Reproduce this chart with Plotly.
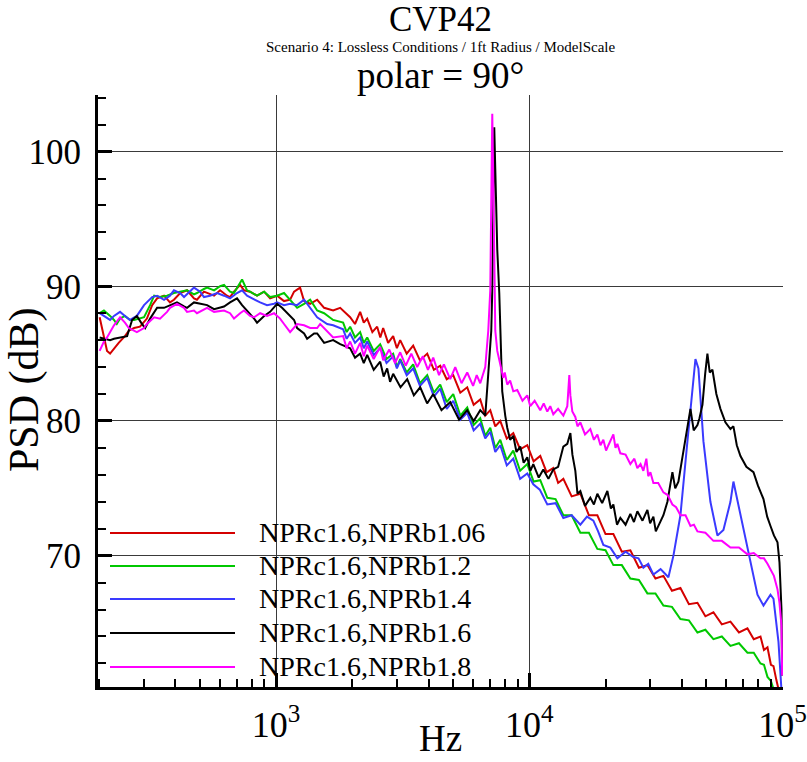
import plotly.graph_objects as go

# ---------------- data ----------------
series_names = ["NPRc1.6,NPRb1.06", "NPRc1.6,NPRb1.2", "NPRc1.6,NPRb1.4",
                "NPRc1.6,NPRb1.6", "NPRc1.6,NPRb1.8"]
series_colors = ["#d40000", "#00c800", "#3a3aff", "#000000", "#ff00ff"]

red_hz = [201, 209, 215, 221, 229, 239, 253, 262, 275, 290, 309, 324, 339, 361, 381, 395,
          418, 445, 474, 487, 519, 534, 569, 601, 640, 658, 682, 721, 747, 789, 841, 897,
          947, 1009, 1075, 1136, 1178, 1244, 1290, 1363, 1453, 1548, 1680, 1791,
          1961, 2050, 2148, 2220, 2290, 2400, 2507, 2580, 2648, 2770, 2900, 3000, 3091, 3280,
          3479, 3700, 3953, 4200, 4449, 4720, 5008, 5340, 5687, 6030, 6402, 6700, 7013, 7340,
          7680, 8150, 8645, 9200, 9820, 10400, 11050, 11700, 12440, 13000, 13630, 14700,
          15910, 17200, 18570, 20000, 21480, 23200, 25070, 27100, 29270, 31500, 33860, 36600,
          39530, 42700, 46140, 49600, 53360, 57600, 62290, 67300, 72710, 77000, 81850, 84500,
          87240, 90000, 92140, 94500, 96420]
red_db = [87.7, 86.3, 85.2, 85.0, 85.4, 85.8, 86.3, 86.7, 86.9, 87.0, 87.6, 88.6, 89.1, 89.3,
          88.8, 89.0, 89.5, 89.7, 89.1, 89.0, 89.6, 89.5, 89.3, 89.7, 89.3, 89.2, 89.6, 90.1,
          89.7, 89.6, 89.3, 89.6, 89.1, 89.3, 88.9, 89.0, 89.6, 89.9, 88.9, 88.7, 89.0, 88.4,
          88.2, 88.4,
          87.7, 87.2, 88.1, 87.3, 87.6, 86.6, 87.0, 86.2, 86.9, 85.8, 86.3, 85.4, 86.0, 85.0,
          85.6, 84.5, 85.0, 83.8, 84.1, 83.1, 83.4, 82.1, 82.5, 81.2, 81.6, 80.4, 80.8, 79.6,
          80.0, 78.7, 79.1, 77.9, 78.2, 77.0, 77.4, 76.2, 76.5, 75.4, 75.7, 74.4,
          74.6, 73.0, 73.0, 71.6, 71.6, 70.3, 70.4, 69.1, 69.3, 68.3, 68.5, 67.4,
          67.6, 66.4, 66.5, 65.5, 65.8, 64.9, 65.1, 64.3, 64.6, 63.8, 64.0, 63.0,
          63.2, 61.9, 61.8, 60.8, 60.1]

green_hz = [201, 209, 221, 229, 235, 242, 253, 265, 275, 290, 301, 318, 330, 348, 371, 395,
            418, 445, 474, 487, 519, 534, 569, 601, 623, 658, 682, 721, 734, 768, 789, 841,
            897, 947, 1009, 1075, 1136, 1211, 1290, 1363, 1453, 1548, 1680,
            1840, 1900, 1961, 2050, 2148, 2220, 2290, 2430, 2577, 2730, 2900, 3000, 3091, 3280,
            3479, 3700, 3953, 4200, 4449, 4720, 5008, 5340, 5687, 6030, 6402, 6700, 7013, 7340,
            7680, 8150, 8645, 9200, 9820, 10400, 11050, 11780, 12700, 13630, 14700, 15910,
            17200, 18570, 20000, 21480, 23200, 25070, 27100, 29270, 31500, 33860, 36600, 39530,
            42700, 46140, 49600, 53360, 57600, 62290, 67300, 72710, 77000, 81850, 84500, 87240,
            90000, 92140]
green_db = [88.0, 88.2, 87.8, 87.5, 87.2, 87.6, 87.8, 87.5, 87.5, 87.6, 87.7, 88.6, 89.3, 89.2,
            89.3, 89.5, 89.6, 89.7, 89.4, 89.5, 89.8, 89.9, 89.7, 90.0, 90.1, 89.6, 89.5, 90.3,
            90.5, 89.7, 89.6, 89.3, 89.6, 89.2, 89.3, 89.5, 89.0, 88.4, 88.7, 89.0, 88.2, 88.0,
            87.5,
            87.3, 86.6, 87.0, 86.2, 86.6, 85.8, 86.2, 85.2, 85.7, 84.6, 85.0, 84.0, 84.6, 83.6,
            84.2, 82.8, 83.4, 82.1, 82.7, 81.4, 82.0, 80.4, 81.0, 79.7, 80.2, 78.9, 79.5, 78.0,
            78.6, 77.1, 77.8, 76.3, 76.8, 75.5, 75.6, 74.3, 74.2, 73.0, 73.0, 71.7,
            71.7, 70.5, 70.4, 69.3, 69.3, 68.3, 68.2, 67.2, 67.2, 66.3, 66.2, 65.3,
            65.2, 64.3, 64.5, 63.8, 64.0, 63.3, 63.5, 62.8, 62.8, 62.0, 61.9, 61.0,
            60.7, 60.1]

blue_hz = [201, 209, 221, 229, 242, 253, 265, 282, 301, 324, 339, 361, 381, 395, 418, 433,
           457, 474, 501, 519, 548, 585, 623, 658, 701, 734, 768, 819, 865, 921, 982, 1009,
           1075, 1136, 1211, 1290, 1363, 1453, 1591, 1680,
           1840, 1900, 1961, 2050, 2148, 2220, 2290, 2430, 2577, 2730, 2900, 3000, 3091, 3280,
           3479, 3700, 3953, 4200, 4449, 4720, 5008, 5340, 5687, 6030, 6402, 6700, 7013, 7340,
           7680, 8150, 8645, 9200, 9820, 10370, 11000, 11780, 12700, 13630, 14700, 15910,
           16900, 17910, 18700, 19610, 20900, 22280, 24000, 25770, 27000, 28220, 29500, 30910,
           33000, 35440, 37090, 39530, 42130, 44100, 45310, 46560, 48720, 51920, 55340, 58440,
           62290, 64010, 68230, 74730, 79650, 84120, 89660, 92140, 96420, 99080]
blue_db = [88.0, 87.8, 87.5, 87.8, 88.1, 87.8, 87.5, 87.8, 88.6, 89.2, 89.3, 89.0, 89.3, 89.7,
           89.5, 89.2, 89.6, 89.9, 89.6, 89.2, 89.3, 89.5, 89.3, 89.1, 89.5, 89.7, 89.3, 89.0,
           88.8, 88.6, 88.7, 88.8, 88.6, 88.7, 88.6, 89.0, 88.4, 87.7, 87.2, 87.1,
           86.8, 86.1, 86.5, 85.8, 86.2, 85.4, 85.9, 84.9, 85.4, 84.3, 84.8, 83.9, 84.5, 83.4,
           83.9, 82.6, 83.2, 81.8, 82.4, 80.9, 81.5, 80.1, 80.6, 79.3, 79.8, 78.7, 79.2, 77.7,
           78.2, 76.7, 77.2, 75.7, 76.1, 75.3, 74.9, 73.8, 73.9, 72.8, 73.0, 72.3,
           72.9, 72.6, 71.8, 70.8, 70.6, 69.8, 70.3, 69.9, 69.8, 69.1, 69.4, 68.6,
           69.0, 68.4, 70.0, 73.0, 78.5, 82.2, 84.6, 83.9, 78.5, 74.0, 71.5, 71.9,
           74.0, 75.5, 73.0, 69.6, 67.1, 66.3, 67.1, 66.8, 63.6, 60.0]

black_hz = [201, 209, 221, 229, 242, 258, 270, 282, 293, 304, 318, 339, 361, 381, 406, 433,
            445, 474, 501, 534, 569, 623, 658, 701, 734, 768, 819, 841, 897, 947, 1009, 1056,
            1105, 1178, 1211, 1290, 1326, 1413, 1453, 1548, 1680, 1791,
            1961, 2050, 2148, 2220, 2290, 2430, 2577, 2660, 2746, 2820, 2900, 3100, 3295, 3500,
            3708, 3950, 4175, 4500, 4873, 5280, 5687, 6030, 6402, 6701, 6886, 7077, 7142, 7207,
            7273, 7340, 7474, 7611, 7680, 7820, 8036, 8184, 8400, 8645, 8900, 9214, 9500, 9820,
            10100, 10370, 10900, 11360, 11900, 12440, 13000, 13630, 14130, 14530, 14800, 15200,
            15500, 15910, 16600, 17420, 18000, 18570, 19400, 20340, 21000, 21480, 22200, 22890,
            24000, 25070, 25900, 26720, 28000, 29270, 30000, 30910, 31600, 32350, 33100, 33860,
            35120, 36750, 37700, 38810, 40000, 41370, 42300, 43300, 44600, 46140, 47000, 48290,
            49500, 50520, 51600, 52880, 54800, 56870, 59500, 62290, 64010, 66000, 68230, 72000,
            76800, 80000, 84120, 87000, 89660, 92500, 95550, 97300, 99080, 99700]
black_db = [86.2, 86.1, 86.0, 86.1, 86.2, 86.3, 87.5, 87.8, 87.3, 86.9, 87.6, 88.4, 88.4, 88.6,
            88.8, 88.5, 88.4, 88.8, 88.7, 88.6, 88.3, 88.5, 88.8, 89.1, 88.6, 88.2, 87.6, 87.3,
            87.8, 88.1, 88.7, 88.4, 88.0, 87.5, 86.9, 86.5, 86.1, 86.5, 86.5, 85.8, 86.0, 85.7,
            85.4, 84.7, 85.0, 84.3, 84.9, 83.8, 84.4, 83.3, 83.9, 82.9, 83.5, 82.5, 83.1, 81.9,
            82.5, 81.3, 82.0, 80.8, 81.4, 80.1, 80.8, 80.0, 80.8, 80.4, 83.5, 86.7, 89.7, 96.4,
            101.8, 98.7, 92.7, 89.5, 86.7, 82.2, 80.4, 79.5, 78.6, 78.9, 77.7, 78.1, 76.9, 77.3,
            76.3, 76.8, 75.8, 76.4, 75.7, 76.4, 76.6, 78.1, 78.3, 79.1, 77.5, 76.3,
            74.6, 74.8, 73.7, 74.3, 73.8, 74.6, 73.9, 74.8, 73.5, 73.8, 72.3, 72.8,
            72.3, 73.1, 72.5, 73.3, 72.6, 73.4, 72.4, 72.9, 71.8, 72.2, 72.5, 73.0,
            74.0, 76.2, 75.0, 75.5, 77.0, 78.7, 80.0, 80.9, 79.3, 79.7, 80.2, 81.2,
            83.5, 85.0, 83.6, 83.8, 82.0, 80.9, 79.9, 79.4, 79.6, 78.2, 77.4, 76.6,
            76.2, 75.2, 74.2, 72.9, 72.2, 71.5, 71.0, 69.5, 66.0, 61.1]

magenta_hz = [201, 209, 215, 229, 242, 253, 262, 282, 301, 309, 330, 348, 371, 381, 406, 433,
              445, 474, 487, 534, 569, 623, 658, 682, 721, 747, 789, 819, 865, 921, 982, 1037,
              1075, 1136, 1211, 1290, 1363, 1453, 1493, 1591, 1680,
              1840, 1900, 1961, 2050, 2148, 2220, 2290, 2430, 2577, 2648, 2800, 2950, 3091, 3250,
              3420, 3608, 3800, 3980, 4175, 4400, 4600, 4873, 5100, 5400, 5687, 6000, 6200, 6402,
              6701, 6886, 7013, 7077, 7142, 7207, 7273, 7340, 7474, 7680, 7891, 8000, 8184, 8400,
              8645, 8965, 9400, 9820, 10090, 10500, 11050, 11400, 11780, 12100, 12440, 13000,
              13630, 14130, 14390, 14530, 14790, 15200, 15500, 15910, 16600, 17420, 18000, 18570,
              19100, 19610, 20100, 20530, 21000, 21480, 21900, 22280, 22890, 24000, 25070, 26000,
              26720, 27500, 28220, 29000, 29500, 30080, 30910, 32300, 33860, 35200, 36750, 38000,
              39530, 41400, 43300, 44700, 46140, 49600, 53360, 57600, 62290, 67300, 72710, 77000,
              81850, 84500, 87240, 89660, 92500, 95550, 97300, 99080, 99700]
magenta_db = [85.2, 85.9, 86.2, 87.1, 87.7, 87.3, 86.9, 86.6, 86.9, 87.2, 87.7, 87.6, 88.1,
              88.4, 88.7, 88.4, 88.1, 88.2, 88.0, 88.4, 88.1, 88.2, 88.0, 87.6, 88.0, 88.2,
              87.8, 87.7, 88.0, 87.8, 88.0, 87.6, 87.2, 86.6, 87.2, 87.1, 86.9, 86.9, 87.2,
              86.7, 86.2,
              86.3, 85.4, 85.9, 85.0, 85.8, 84.8, 85.6, 84.6, 85.5, 84.5, 85.3, 84.3, 85.1, 84.1,
              85.0, 84.0, 84.8, 83.8, 84.7, 83.4, 84.2, 83.1, 84.0, 82.8, 83.6, 82.6, 83.4, 82.8,
              84.0, 86.7, 89.7, 96.8, 102.8, 97.9, 91.9, 86.7, 85.2, 84.3, 83.2, 83.6, 82.7, 83.0,
              82.2, 82.3, 81.5, 81.9, 81.1, 81.5, 80.8, 81.3, 80.7, 81.1, 80.5, 80.9,
              80.4, 81.1, 83.4, 81.9, 80.7, 80.3, 79.6, 79.9, 79.0, 79.4, 78.6, 79.0,
              78.2, 78.6, 77.8, 78.2, 78.6, 79.0, 78.0, 78.3, 77.6, 77.5, 76.8, 77.2,
              76.5, 76.8, 76.3, 77.2, 75.9, 76.2, 75.4, 75.4, 74.7, 74.5, 73.8, 73.6,
              73.0, 73.0, 72.2, 72.3, 71.8, 71.7, 71.1, 71.1, 70.6, 70.6, 70.1, 70.2,
              69.8, 69.8, 69.4, 69.0, 68.5, 67.5, 66.5, 64.8, 61.1]

series_hz = [red_hz, green_hz, blue_hz, black_hz, magenta_hz]
series_db = [red_db, green_db, blue_db, black_db, magenta_db]

x_tickvals = [1e3, 1e4, 1e5]
x_ticktext = ["10<sup>3</sup>", "10<sup>4</sup>", "10<sup>5</sup>"]
y_tickvals = [70, 80, 90, 100]

title_main = "CVP42"
title_sub = "Scenario 4: Lossless Conditions / 1ft Radius / ModelScale"
title_polar = "polar = 90°"
x_title = "Hz"
y_title = "PSD (dB)"

# ---------------- figure ----------------
W, H = 807, 762
L, R, T, B = 98, 783, 95, 687
FONT = "Liberation Serif, Times New Roman, serif"


def px_x(p):
    return (p - L) / (R - L)


def px_y(p):
    return (B - p) / (B - T)


fig = go.Figure()
for name, color, xs, ys in zip(series_names, series_colors, series_hz, series_db):
    fig.add_trace(go.Scatter(x=xs, y=ys, mode="lines", name=name,
                             line=dict(color=color, width=2), showlegend=False))

minor_x = [m * 10 ** e for e in (2, 3, 4) for m in range(2, 10) if 190 < m * 10 ** e < 1e5]

fig.update_xaxes(type="log", range=[2.2967, 5.002], automargin=False,
                 tickvals=x_tickvals, ticktext=x_ticktext,
                 ticks="inside", ticklen=14, tickwidth=2.5, tickcolor="black",
                 showline=True, linecolor="black", linewidth=3, mirror=False,
                 showgrid=True, gridcolor="#3a3a3a", gridwidth=1, zeroline=False,
                 tickfont=dict(family=FONT, size=36, color="black"), ticklabelstandoff=4,
                 minor=dict(tickvals=minor_x, ticks="inside", ticklen=8, tickwidth=1.5,
                            tickcolor="black", showgrid=False))
fig.update_yaxes(range=[60.25, 104.2], tickvals=y_tickvals, automargin=False,
                 ticks="inside", ticklen=14, tickwidth=2.5, tickcolor="black",
                 showline=True, linecolor="black", linewidth=3, mirror=False,
                 showgrid=True, gridcolor="#3a3a3a", gridwidth=1, zeroline=False,
                 tickfont=dict(family=FONT, size=35, color="black"), ticklabelstandoff=7,
                 minor=dict(dtick=2, tick0=0, ticks="inside", ticklen=8, tickwidth=1.5,
                            tickcolor="black", showgrid=False))

# white legend box hiding grid lines
fig.add_shape(type="rect", xref="paper", yref="paper",
              x0=px_x(100), x1=px_x(485), y0=px_y(674), y1=px_y(505),
              fillcolor="white", line=dict(width=0), layer="below")

annotations = []
row_y = [533, 566, 599, 633, 667]
for name, color, yy in zip(series_names, series_colors, row_y):
    fig.add_shape(type="line", xref="paper", yref="paper",
                  x0=px_x(110), x1=px_x(235), y0=px_y(yy), y1=px_y(yy),
                  line=dict(color=color, width=2))
    annotations.append(dict(xref="paper", yref="paper", x=px_x(257), y=px_y(yy - 1),
                            xanchor="left", yanchor="middle", showarrow=False, text=name,
                            font=dict(family=FONT, size=28, color="black")))

annotations += [
    dict(xref="paper", yref="paper", x=0.5, y=px_y(20), text=title_main, showarrow=False,
         xanchor="center", yanchor="middle", font=dict(family=FONT, size=35, color="black")),
    dict(xref="paper", yref="paper", x=0.5, y=px_y(47), text=title_sub, showarrow=False,
         xanchor="center", yanchor="middle", font=dict(family=FONT, size=15, color="black")),
    dict(xref="paper", yref="paper", x=0.5, y=px_y(75), text=title_polar, showarrow=False,
         xanchor="center", yanchor="middle", font=dict(family=FONT, size=37, color="black")),
    dict(xref="paper", yref="paper", x=0.5, y=px_y(761), text=x_title, showarrow=False,
         xanchor="center", yanchor="bottom", font=dict(family=FONT, size=37, color="black")),
    dict(xref="paper", yref="paper", x=px_x(24), y=px_y(390), text=y_title, showarrow=False,
         textangle=-90, xanchor="center", yanchor="middle",
         font=dict(family=FONT, size=42, color="black")),
]

fig.update_layout(width=W, height=H, margin=dict(l=L, r=W - R, t=T, b=H - B),
                  paper_bgcolor="white", plot_bgcolor="white",
                  annotations=annotations, showlegend=False)

fig.write_html("out.html")
